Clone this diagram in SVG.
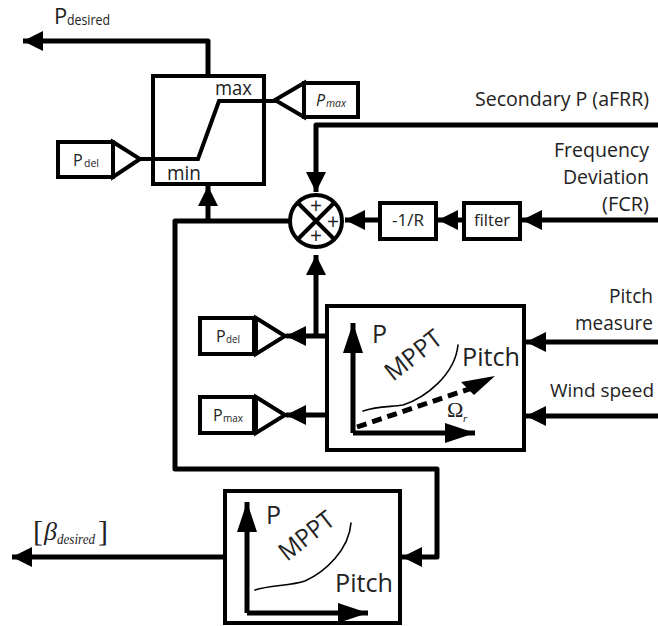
<svg xmlns="http://www.w3.org/2000/svg" width="658" height="626" viewBox="0 0 658 626">
<defs>
<style>
text{font-family:"Open Sans","Noto Sans","Liberation Sans",sans-serif;fill:#222}
.b{fill:#fff;stroke:#000;stroke-width:4}
.t{fill:none;stroke:#000;stroke-width:4;stroke-linejoin:miter}
.tf{fill:#fff;stroke:#000;stroke-width:4;stroke-linejoin:miter}
.w{fill:none;stroke:#000;stroke-width:5;stroke-linejoin:round}
.thin{fill:none;stroke:#000;stroke-width:1.6;stroke-linecap:round}
.h{fill:#000;stroke:none}
.c{text-anchor:middle}
.sf{font-family:"Liberation Serif",serif}
</style>
<marker id="a" viewBox="0 0 20 20" refX="20" refY="10" markerWidth="20" markerHeight="20" markerUnits="userSpaceOnUse" orient="auto"><path class="h" d="M0 0L20 10L0 20Z"/></marker>
<marker id="a2" viewBox="0 0 30 20" refX="30" refY="10" markerWidth="30" markerHeight="20" markerUnits="userSpaceOnUse" orient="auto"><path class="h" d="M0 0L30 10L0 20Z"/></marker>
</defs>
<g id="connectors">
<path class="w" marker-end="url(#a)" d="M208 76V41H23"/>
<path class="w" marker-end="url(#a)" d="M658 125H316V192"/>
<path class="w" marker-end="url(#a)" d="M658 220H522"/>
<path class="w" marker-end="url(#a)" d="M464 220H438"/>
<path class="w" marker-end="url(#a)" d="M380 220H345"/>
<path class="w" marker-end="url(#a)" d="M290 221H175V469H437V557H402"/>
<path class="w" marker-end="url(#a)" d="M208 221V186"/>
<path class="w" marker-end="url(#a)" d="M316 336V255"/>
<path class="w" marker-end="url(#a)" d="M327 336H286"/>
<path class="w" marker-end="url(#a)" d="M327 415H286"/>
<path class="w" marker-end="url(#a)" d="M658 342H526"/>
<path class="w" marker-end="url(#a)" d="M658 416H526"/>
<path class="w" marker-end="url(#a)" d="M227 557H12"/>
</g>
<g id="minmax">
<rect class="b" x="153" y="76" width="111" height="108"/>
<path class="t" d="M140 159H198L219 101H276"/>
<text x="215" y="95" font-size="20" textLength="37" lengthAdjust="spacingAndGlyphs">max</text>
<text x="167" y="180" font-size="20" textLength="34" lengthAdjust="spacingAndGlyphs">min</text>
</g>
<g id="pdel-top">
<rect class="b" x="58" y="142" width="55" height="35"/>
<path class="tf" d="M113 142L140 159L113 177Z"/>
<text x="73" y="166" font-size="16">P</text>
<text x="84" y="167" font-size="11" textLength="15" lengthAdjust="spacingAndGlyphs">del</text>
</g>
<g id="pmax-top">
<rect class="b" x="304" y="83" width="54" height="34"/>
<path class="tf" d="M304 83L275 100L304 117Z"/>
<text x="316" y="106" font-size="16" font-style="italic">P</text>
<text x="326" y="107" font-size="11" font-style="italic" textLength="20" lengthAdjust="spacingAndGlyphs">max</text>
</g>
<g id="sum">
<circle class="b" cx="316" cy="221" r="26"/>
<path class="t" d="M298 203L334 239M334 203L298 239"/>
<text x="316" y="213" font-size="21" class="c">+</text>
<text x="333" y="229" font-size="21" class="c">+</text>
<text x="316" y="243" font-size="21" class="c">+</text>
</g>
<g id="gain">
<rect class="b" x="380" y="203" width="56" height="36"/>
<text x="392" y="226" font-size="17" textLength="32" lengthAdjust="spacingAndGlyphs">-1/R</text>
</g>
<g id="filter">
<rect class="b" x="464" y="203" width="56" height="36"/>
<text x="474" y="226" font-size="17" textLength="36" lengthAdjust="spacingAndGlyphs">filter</text>
</g>
<g id="pdel-mid">
<rect class="b" x="200" y="318" width="54" height="36"/>
<path class="tf" d="M256 318L285 336L256 354Z"/>
<text x="216" y="342" font-size="16">P</text>
<text x="226" y="343" font-size="11" textLength="14" lengthAdjust="spacingAndGlyphs">del</text>
</g>
<g id="pmax-mid">
<rect class="b" x="200" y="397" width="54" height="36"/>
<path class="tf" d="M256 397L285 415L256 433Z"/>
<text x="213" y="421" font-size="16">P</text>
<text x="223" y="422" font-size="11" textLength="20" lengthAdjust="spacingAndGlyphs">max</text>
</g>
<g id="mppt-mid">
<rect class="b" x="327" y="306" width="197" height="144"/>
<path class="w" marker-end="url(#a2)" d="M353 433V323"/>
<path class="w" marker-end="url(#a2)" d="M353 433H475"/>
<path fill="none" stroke="#000" stroke-width="5" stroke-dasharray="10 6" d="M357 427L475 387"/>
<path class="h" d="M495 376L474 395L461 382Z"/>
<path class="thin" d="M363 411C378 406 392 407 403 405C425 398 455 375 458 345"/>
<text x="372" y="343" font-size="25">P</text>
<text font-size="25" textLength="65" lengthAdjust="spacingAndGlyphs" transform="translate(393 382) rotate(-38)">MPPT</text>
<text x="462" y="366" font-size="26" textLength="58" lengthAdjust="spacingAndGlyphs">Pitch</text>
<text x="447" y="417" font-size="22" class="sf">Ω</text>
<text x="463" y="422" font-size="11" class="sf" font-style="italic">r</text>
</g>
<g id="mppt-bottom">
<rect class="b" x="225" y="491" width="175" height="132"/>
<path class="w" marker-end="url(#a2)" d="M247 613V502"/>
<path class="w" marker-end="url(#a2)" d="M247 613H368"/>
<path class="thin" d="M255 590C270 585 290 586 305 581C325 572 349 550 351 523"/>
<text x="266" y="524" font-size="25">P</text>
<text font-size="25" textLength="63" lengthAdjust="spacingAndGlyphs" transform="translate(287 562) rotate(-38)">MPPT</text>
<text x="335" y="592" font-size="26" textLength="58" lengthAdjust="spacingAndGlyphs">Pitch</text>
</g>
<g id="labels">
<text x="54" y="24" font-size="22">P</text>
<text x="67" y="25" font-size="15" textLength="43" lengthAdjust="spacingAndGlyphs">desired</text>
<text x="475" y="106" font-size="20" textLength="174" lengthAdjust="spacingAndGlyphs">Secondary P (aFRR)</text>
<text x="554" y="157" font-size="20" textLength="95" lengthAdjust="spacingAndGlyphs">Frequency</text>
<text x="563" y="184" font-size="20" textLength="86" lengthAdjust="spacingAndGlyphs">Deviation</text>
<text x="602" y="211" font-size="20" textLength="47" lengthAdjust="spacingAndGlyphs">(FCR)</text>
<text x="609" y="303" font-size="20" textLength="44" lengthAdjust="spacingAndGlyphs">Pitch</text>
<text x="575" y="330" font-size="20" textLength="78" lengthAdjust="spacingAndGlyphs">measure</text>
<text x="550" y="397" font-size="19" textLength="104" lengthAdjust="spacingAndGlyphs">Wind speed</text>
<text x="33" y="541" font-size="30" class="sf">[</text>
<text x="44" y="540" font-size="26" class="sf" font-style="italic">β</text>
<text x="57" y="544" font-size="14" class="sf" font-style="italic" textLength="38" lengthAdjust="spacingAndGlyphs">desired</text>
<text x="98" y="541" font-size="30" class="sf">]</text>
</g>
</svg>
